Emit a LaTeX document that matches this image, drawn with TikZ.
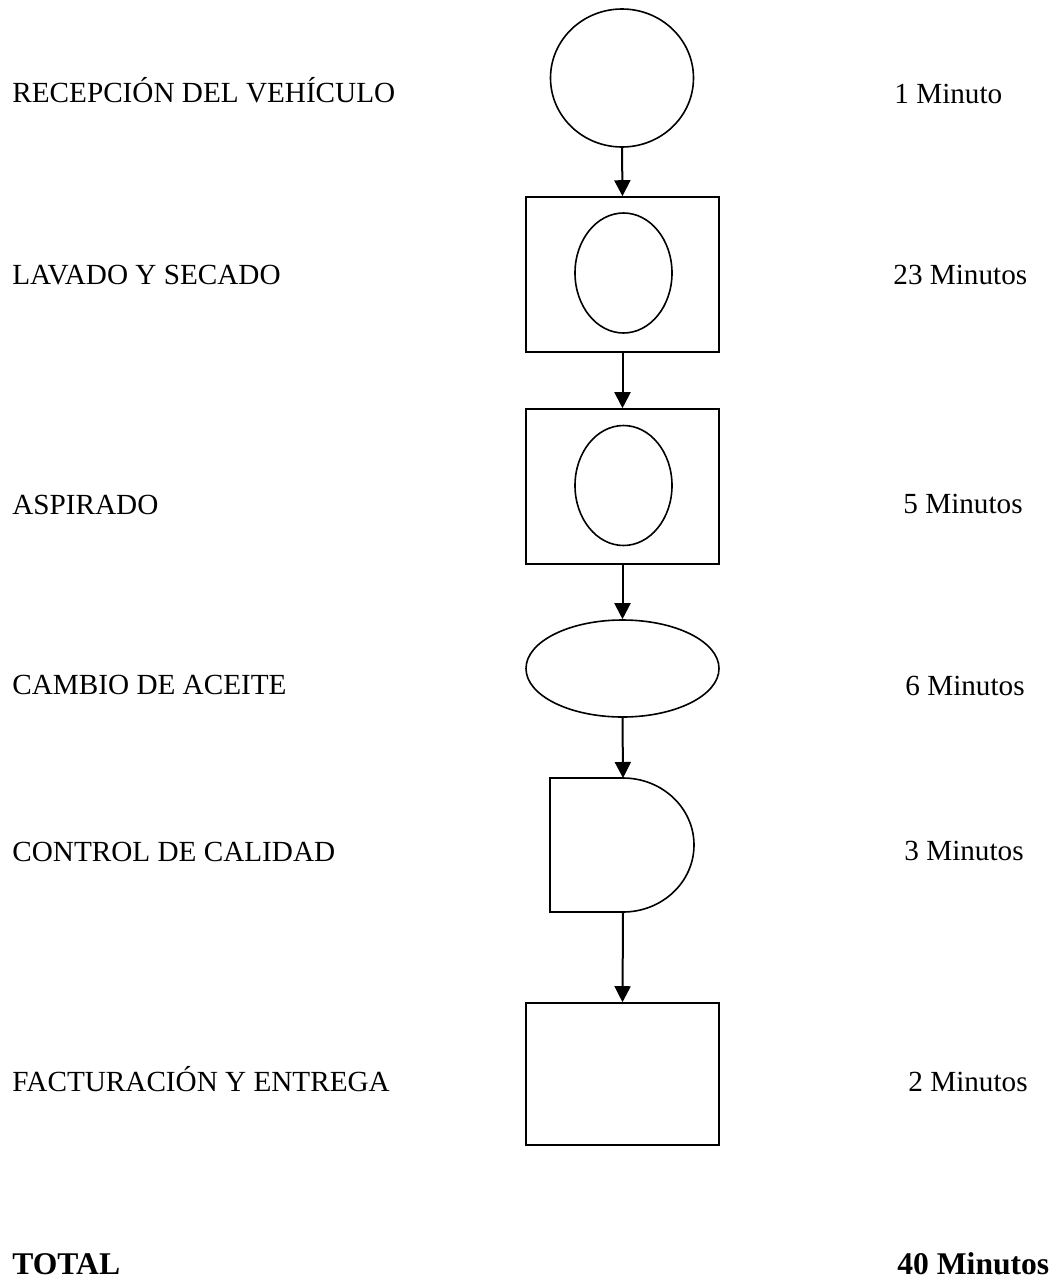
\documentclass[tikz,border=0pt]{standalone}
\usepackage{fontspec}
\setmainfont{Liberation Serif}
\usetikzlibrary{shapes.geometric,arrows.meta}
\begin{document}
\begin{tikzpicture}[x=0.5pt,y=-0.5pt,
  font=\fontsize{14.6}{17}\selectfont,
  shapeline/.style={draw,line width=0.8pt,inner sep=0pt},
  oval/.style={shapeline,ellipse},
  box/.style={shapeline,rectangle},
  lbl/.style={anchor=base west,inner sep=0pt},
  totlbl/.style={lbl,font=\fontsize{15.8}{18}\selectfont\bfseries},
  flow/.style={line width=1pt,-{Triangle[width=8pt,length=8pt]}}]
\useasboundingbox (0,0) rectangle (1051,1280);

% process symbols
\node[oval,minimum width=71.5pt,minimum height=69pt] (recep) at (622,78) {};
\node[box,minimum width=96.5pt,minimum height=77.5pt] (lav) at (622.5,274.5) {};
\node[oval,minimum width=48.5pt,minimum height=60pt] (lavin) at (623.5,273) {};
\node[box,minimum width=96.5pt,minimum height=77.5pt] (asp) at (622.5,486.5) {};
\node[oval,minimum width=48.5pt,minimum height=60pt] (aspin) at (623.5,485.5) {};
\node[oval,minimum width=96.5pt,minimum height=48.5pt] (aceite) at (622.5,668.5) {};

% delay symbol for quality control
\coordinate (ctrltop) at (623,778);
\coordinate (ctrlbot) at (623,912);
\draw[line width=0.8pt,line join=miter] (550,778) -- (ctrltop)
  arc[start angle=90,end angle=-90,x radius=35.5pt,y radius=33.5pt]
  -- (550,912) -- cycle;

\node[box,minimum width=96.5pt,minimum height=71pt] (fact) at (622.5,1074) {};

% connectors
\draw[flow] (recep.south) -- (lav.north);
\draw[flow] (lav.south) -- (asp.north);
\draw[flow] (asp.south) -- (aceite.north);
\draw[flow] (aceite.south) -- (ctrltop);
\draw[flow] (ctrlbot) -- (fact.north);

% activity names
\node[lbl] (t1) at (12,102) {RECEPCIÓN DEL VEHÍCULO};
\node[lbl] (t2) at (12,284) {LAVADO Y SECADO};
\node[lbl] (t3) at (12,514) {ASPIRADO};
\node[lbl] (t4) at (12,694.5) {CAMBIO DE ACEITE};
\node[lbl] (t5) at (12,861) {CONTROL DE CALIDAD};
\node[lbl] (t6) at (12,1091) {FACTURACIÓN Y ENTREGA};
\node[totlbl] (t7) at (12,1274) {TOTAL};

% durations
\node[lbl] (d1) at (894,103) {1 Minuto};
\node[lbl] (d2) at (893,284) {23 Minutos};
\node[lbl] (d3) at (903,513) {5 Minutos};
\node[lbl] (d4) at (905,695) {6 Minutos};
\node[lbl] (d5) at (904,860) {3 Minutos};
\node[lbl] (d6) at (908,1091) {2 Minutos};
\node[totlbl] (d7) at (897,1274) {40 Minutos};
\end{tikzpicture}
\end{document}
